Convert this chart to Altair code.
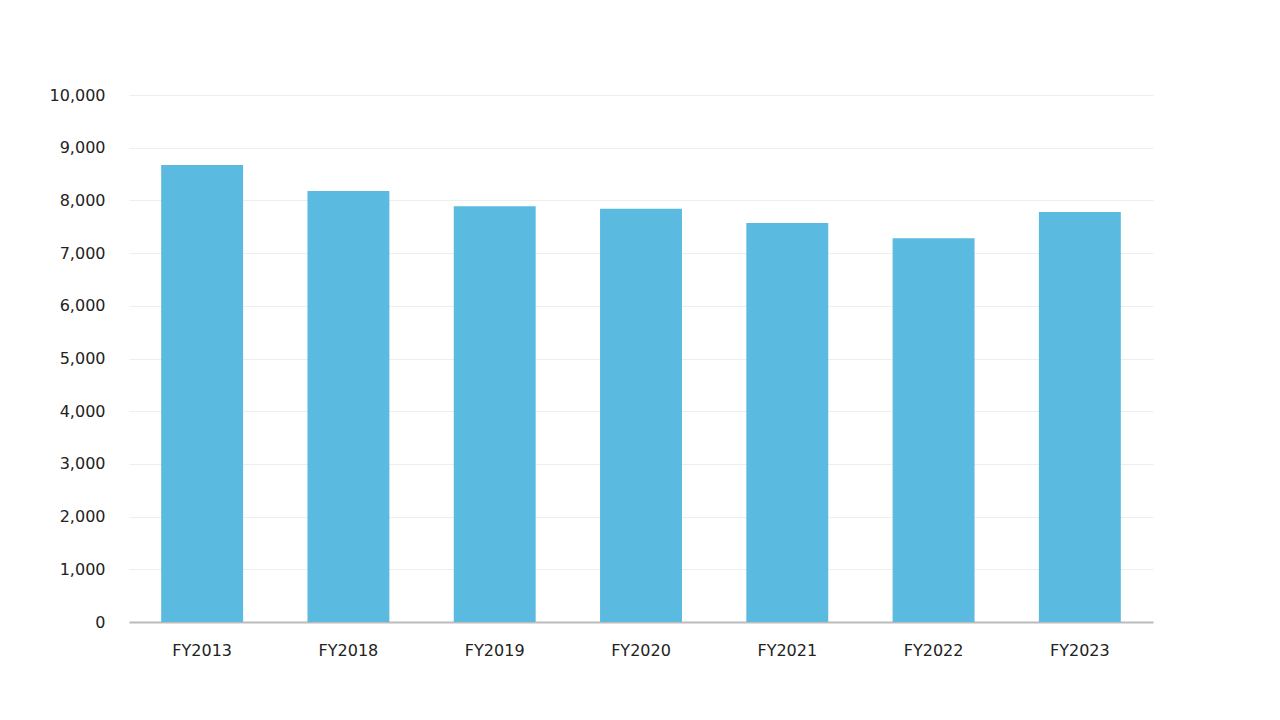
import altair as alt
import pandas as pd

years = ["FY2013", "FY2018", "FY2019", "FY2020", "FY2021", "FY2022", "FY2023"]
values = [8670, 8180, 7890, 7840, 7570, 7280, 7780]

df = pd.DataFrame({"year": years, "value": values})

chart = alt.Chart(df).mark_bar(color="#5BBAE0").encode(
    x=alt.X("year:N", sort=years, title=None,
            scale=alt.Scale(paddingInner=0.44, paddingOuter=0.22),
            axis=alt.Axis(labelAngle=0, labelFontSize=16, labelFont="DejaVu Sans",
                          labelColor="#222222", labelPadding=20, ticks=False,
                          domainColor="#BBBBBB", domainWidth=2, grid=False)),
    y=alt.Y("value:Q", title=None,
            scale=alt.Scale(domain=[0, 10000], nice=False),
            axis=alt.Axis(values=list(range(0, 10001, 1000)), format=",.0f",
                          labelFontSize=16, labelFont="DejaVu Sans", labelColor="#222222",
                          labelPadding=24, ticks=False, domain=False,
                          gridColor="#EEEEEE", gridWidth=1)),
).properties(
    width=1024, height=527,
    background="white",
    autosize=alt.AutoSizeParams(type="none"),
    padding={"left": 121, "top": 87, "right": 119, "bottom": 90},
).configure_view(strokeOpacity=0, strokeWidth=0)

chart.save("out.html", embed_options={"renderer": "svg", "actions": False})
